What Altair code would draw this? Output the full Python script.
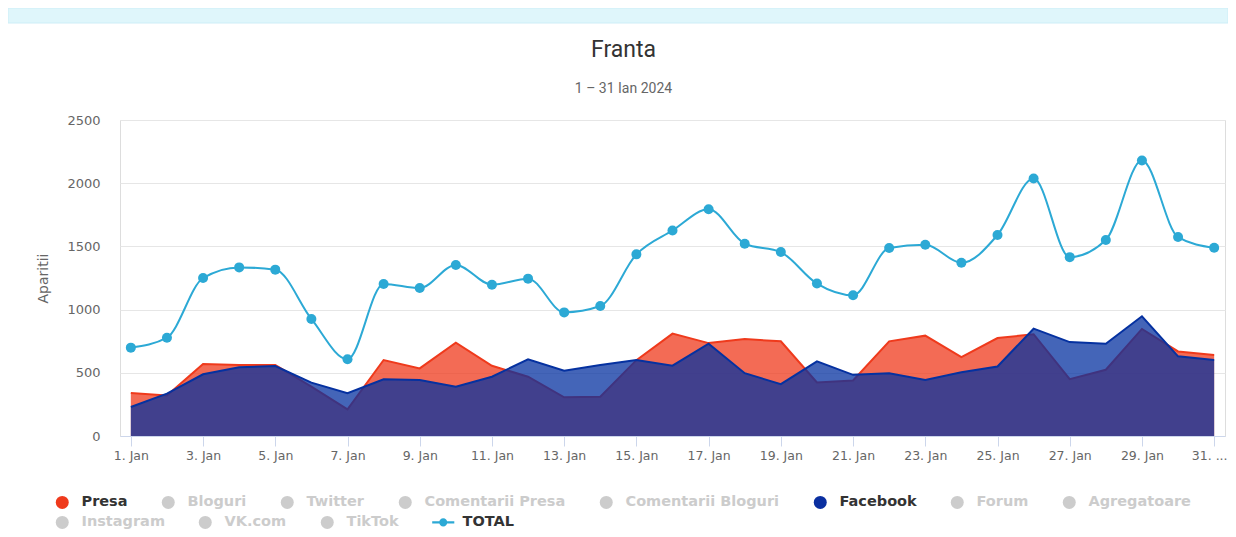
import altair as alt
import pandas as pd

days = list(range(1, 32))
presa = [340, 320, 570, 562, 562, 390, 211, 601, 535, 738, 556, 469, 306, 311, 600,
         810, 735, 767, 749, 423, 439, 749, 794, 624, 775, 805, 450, 524, 847, 669, 641]
facebook = [229, 335, 488, 543, 554, 422, 338, 448, 443, 390, 469, 607, 517, 562, 601,
            556, 730, 497, 410, 590, 484, 497, 444, 505, 550, 849, 743, 730, 947, 630, 601]
total = [699, 778, 1250, 1334, 1316, 926, 607, 1203, 1171, 1353, 1197, 1245, 978, 1028, 1437,
         1626, 1794, 1521, 1455, 1206, 1114, 1487, 1513, 1370, 1590, 2037, 1415, 1550, 2180, 1574, 1489]

x_ticks = list(range(1, 32, 2))
y_ticks = [0, 500, 1000, 1500, 2000, 2500]

legend_row1 = ["Presa", "Bloguri", "Twitter", "Comentarii Presa", "Comentarii Bloguri",
               "Facebook", "Forum", "Agregatoare"]
legend_row2 = ["Instagram", "VK.com", "TikTok", "TOTAL"]

RED = "#EF3A1C"
BLUE = "#0531A0"
CYAN = "#2CA9D5"
GREY = "#CCCCCC"

df = pd.DataFrame({"day": days, "presa": presa, "facebook": facebook, "total": total})

x_enc = alt.X(
    "day:Q",
    scale=alt.Scale(domain=[0.7, 31.3], nice=False, zero=False),
    axis=alt.Axis(
        values=x_ticks,
        labelExpr="datum.value == 31 ? '31. ...' : datum.value + '. Jan'",
        labelOffset={"expr": "datum.value == 31 ? -5 : 0"},
        grid=False, domainColor="#ccd6eb", tickColor="#ccd6eb", tickSize=10,
        labelColor="#666666", labelFontSize=12.5, labelFont="DejaVu Sans",
        labelPadding=3, title=None, labelFlush=False,
    ),
)


def y_enc(field):
    return alt.Y(
        f"{field}:Q",
        scale=alt.Scale(domain=[0, 2500], nice=False),
        axis=alt.Axis(
            values=y_ticks, format="d", gridColor="#e6e6e6", domain=False, ticks=False,
            labelColor="#666666", labelFontSize=13, labelFont="DejaVu Sans",
            labelPadding=20, title="Aparitii", titleColor="#666666",
            titleFontSize=14, titleFont="DejaVu Sans", titleFontWeight="normal",
            titlePadding=16,
        ),
    )


band = alt.Chart(alt.Data(values=[{}])).mark_rect(
    color="#DFF6FB", stroke="#CDEEF7", strokeWidth=1
).encode(
    x=alt.value(-112), x2=alt.value(1108), y=alt.value(-112), y2=alt.value(-97)
)

base = alt.Chart(df)
presa_area = base.mark_area(color=RED, opacity=0.75).encode(x=x_enc, y=y_enc("presa"))
presa_line = base.mark_line(color=RED, strokeWidth=2).encode(x=x_enc, y=y_enc("presa"))
fb_area = base.mark_area(color=BLUE, opacity=0.75).encode(x=x_enc, y=y_enc("facebook"))
fb_line = base.mark_line(color=BLUE, strokeWidth=2).encode(x=x_enc, y=y_enc("facebook"))
total_line = base.mark_line(color=CYAN, strokeWidth=2, interpolate="monotone").encode(
    x=x_enc, y=y_enc("total"))
total_pts = base.mark_point(color=CYAN, filled=True, opacity=1, size=100).encode(
    x=x_enc, y=y_enc("total"))

label_color = {"expr": "indexof(['Presa','Facebook','TOTAL'], datum.label) >= 0 ? '#333333' : '#cccccc'"}

leg_common = dict(
    orient="none", direction="horizontal", title=None, symbolSize=169,
    symbolStrokeWidth=0, labelFont="DejaVu Sans", labelFontSize=14.5,
    labelFontWeight="bold", labelColor=label_color, labelOffset=12,
    columnPadding=33, symbolOpacity=1,
)

legend1 = alt.Chart(alt.Data(values=[{"name": n} for n in legend_row1])).transform_filter(
    "false"
).mark_point(filled=True).encode(
    color=alt.Color(
        "name:N",
        scale=alt.Scale(domain=legend_row1,
                        range=[RED, GREY, GREY, GREY, GREY, "#0A2FA0", GREY, GREY]),
        legend=alt.Legend(symbolType="circle", legendX=-65, legendY=375, **leg_common),
    )
)

total_symbol = ("M-1.7,-0.16L1.7,-0.16L1.7,0.16L-1.7,0.16Z"
                "M-0.62,0A0.62,0.62 0 1,1 0.62,0A0.62,0.62 0 1,1 -0.62,0Z")

legend2 = alt.Chart(alt.Data(values=[{"name2": n} for n in legend_row2])).transform_filter(
    "false"
).mark_point(filled=True).encode(
    fill=alt.Fill(
        "name2:N",
        scale=alt.Scale(domain=legend_row2, range=[GREY, GREY, GREY, CYAN]),
        legend=alt.Legend(legendX=-65, legendY=395, **leg_common),
    ),
    shape=alt.Shape(
        "name2:N",
        scale=alt.Scale(domain=legend_row2,
                        range=["circle", "circle", "circle", total_symbol]),
        legend=alt.Legend(legendX=-65, legendY=395, **leg_common),
    ),
)

chart = alt.layer(
    band, presa_area, presa_line, fb_area, fb_line, total_line, total_pts, legend1, legend2
).resolve_scale(color="independent").properties(
    width=1105, height=316,
    padding={"left": 112, "top": 112, "right": 3, "bottom": 93},
    autosize=alt.AutoSizeParams(type="none"),
    title=alt.TitleParams(
        text="Franta", subtitle="1 – 31 Ian 2024",
        font="Roboto", fontSize=23, fontWeight="normal", color="#333333",
        subtitleFont="Roboto", subtitleFontSize=14, subtitleColor="#666666",
        subtitlePadding=20, anchor="middle", frame="group", dx=-49, offset=-88,
    ),
).configure_view(stroke=None).configure(background="white")

chart.save("out.html", embed_options={"renderer": "svg", "actions": False})
